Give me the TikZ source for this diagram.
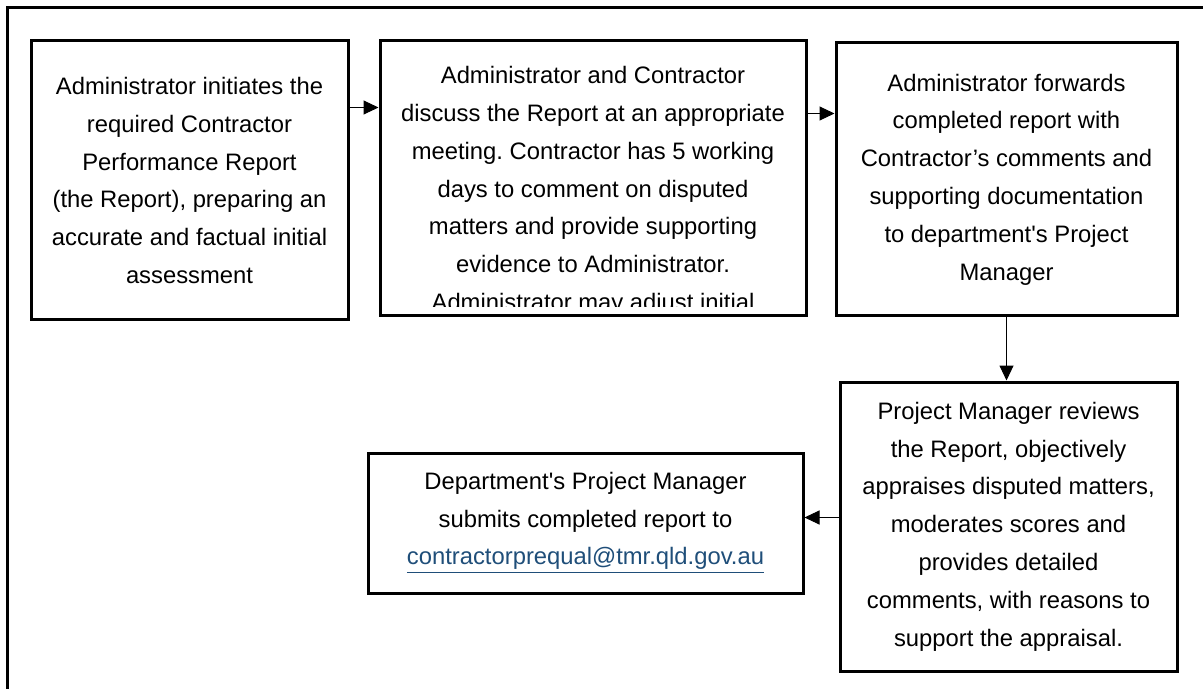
\documentclass[tikz,border=0pt]{standalone}
\usepackage{fontspec}
\setmainfont{Liberation Sans}
\usetikzlibrary{arrows.meta}
\definecolor{maillink}{RGB}{31,78,121}
\frenchspacing

\begin{document}
\begin{tikzpicture}[x=0.5pt,y=-0.5pt,
  boxtext/.style={inner sep=0pt, align=center, font=\fontsize{11.9}{18.9}\selectfont},
  box/.style={boxtext, draw, line width=1.5pt},
  flow/.style={-{Triangle[length=7.5pt,width=7pt]}, line width=0.5pt}]
\useasboundingbox (0,0) rectangle (1203,689);
\draw[line width=1.5pt] (7,689) -- (7,8) -- (1203,8);

\node[box, minimum width=158.5pt, minimum height=139.5pt] (init) at (189.5,180.5)
  {Administrator initiates the\\ required Contractor\\ Performance Report\\
   (the Report), preparing an\\ accurate and factual initial\\ assessment};

\node[box, minimum width=213pt, minimum height=137.5pt] (meet) at (593,178.5) {};
\begin{scope}
\clip (380,41) rectangle (806,307);
\node[boxtext, anchor=north] (meettext) at (593,66)
  {Administrator and Contractor\\ discuss the Report at an appropriate\\
   meeting. Contractor has 5 working\\ days to comment on disputed\\
   matters and provide supporting\\ evidence to Administrator.\\
   Administrator may adjust initial};
\end{scope}

\node[box, minimum width=170.5pt, minimum height=136.5pt] (fwd) at (1006.5,179.5)
  {Administrator forwards\\ completed report with\\ Contractor’s comments and\\
   supporting documentation\\ to department\textquotesingle s Project\\ Manager};

\node[box, minimum width=168.5pt, minimum height=144.5pt] (review) at (1008.5,526.5)
  {Project Manager reviews\\ the Report, objectively\\ appraises disputed matters,\\
   moderates scores and\\ provides detailed\\ comments, with reasons to\\
   support the appraisal.};

\node[box, minimum width=217.5pt, minimum height=70pt] (submit) at (585.5,523)
  {Department\textquotesingle s Project Manager\\ submits completed report to\\
   \textcolor{maillink}{\underline{contractorprequal@tmr.qld.gov.au}}};

% connectors
\draw[flow] ([yshift=-34pt]init.north east) coordinate (a1) -- (a1 -| meet.west);
\draw[flow] ([yshift=-37pt]meet.north east) coordinate (a2) -- (a2 -| fwd.west);
\draw[flow] (fwd.south) -- (fwd.south |- review.north);
\draw[flow] ([yshift=4.5pt]review.west) coordinate (a4) -- (a4 -| submit.east);

\end{tikzpicture}
\end{document}
